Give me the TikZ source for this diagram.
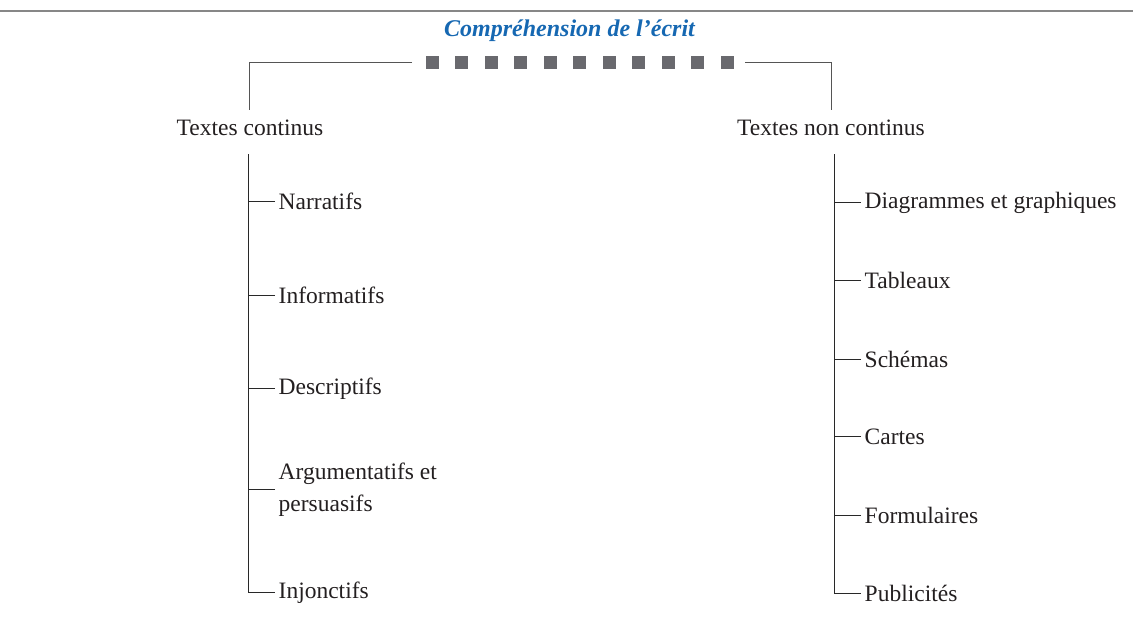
\documentclass[tikz,border=0pt]{standalone}
\usepackage{fontspec}
\setmainfont{Liberation Serif}
\definecolor{titleblue}{RGB}{22,104,178}
\definecolor{sqgray}{RGB}{105,105,110}
\definecolor{rulegray}{RGB}{135,135,135}
\definecolor{linegray}{RGB}{85,85,85}
\definecolor{treeline}{RGB}{40,40,40}
\definecolor{textdark}{RGB}{35,31,32}
\begin{document}
\begin{tikzpicture}[x=1pt,y=-1pt,
  titlestyle/.style={font=\fontsize{24}{28}\selectfont\bfseries\itshape, text=titleblue, inner sep=0pt, anchor=base},
  headstyle/.style={font=\fontsize{23.5}{28}\selectfont, text=textdark, inner sep=0pt, anchor=base},
  leaf/.style={font=\fontsize{23.5}{31.7}\selectfont, text=textdark, inner xsep=3.5pt, inner ysep=0pt, anchor=west, align=left},
  sq/.style={fill=sqgray, draw=none, minimum size=13pt, inner sep=0pt},
  bracket/.style={draw=linegray, line width=1.3pt},
  treeedge/.style={draw=treeline, line width=1.3pt}]
\useasboundingbox (0,0) rectangle (1133,641);
% top rule
\coordinate (ruleL) at (0,11);
\coordinate (ruleR) at (1133,11);
\draw[rulegray, line width=1.7pt] (ruleL) -- (ruleR);
% title
\node[titlestyle] (title) at (569.5,36) {Compréhension de l’écrit};
% squares
\foreach \i in {0,...,10} {
  \node[sq] (s\i) at (432.5+29.45*\i,62.5) {};
}
% headers
\node[headstyle] (tc) at (250,135) {Textes continus};
\node[headstyle] (tnc) at (831,135) {Textes non continus};
% bracket
\coordinate (bl) at (412,62.5);
\coordinate (br) at (745,62.5);
\coordinate (blc) at (249.5,110);
\coordinate (brc) at (831.5,110);
\draw[bracket] (bl) -| (blc);
\draw[bracket] (br) -| (brc);
% left tree
\coordinate (lv) at (248.5,154);
\node[leaf] (l1) at (275,201.5) {Narratifs};
\node[leaf] (l2) at (275,295.5) {Informatifs};
\node[leaf] (l3) at (275,388.5) {Descriptifs};
\node[leaf] (l4) at (275,489.5) {Argumentatifs et\\persuasifs};
\node[leaf] (l5) at (275,592.5) {Injonctifs};
\draw[treeedge] (lv) |- (l5.west);
\foreach \n in {l1,l2,l3,l4} {
  \draw[treeedge] (\n.west) -- (\n.west -| lv);
}
% right tree
\coordinate (rv) at (834.5,154);
\node[leaf] (r1) at (861,202.5) {Diagrammes et graphiques};
\node[leaf] (r2) at (861,280.5) {Tableaux};
\node[leaf] (r3) at (861,359.5) {Schémas};
\node[leaf] (r4) at (861,436.5) {Cartes};
\node[leaf] (r5) at (861,515.5) {Formulaires};
\node[leaf] (r6) at (861,593.5) {Publicités};
\draw[treeedge] (rv) |- (r6.west);
\foreach \n in {r1,r2,r3,r4,r5} {
  \draw[treeedge] (\n.west) -- (\n.west -| rv);
}
\end{tikzpicture}
\end{document}
